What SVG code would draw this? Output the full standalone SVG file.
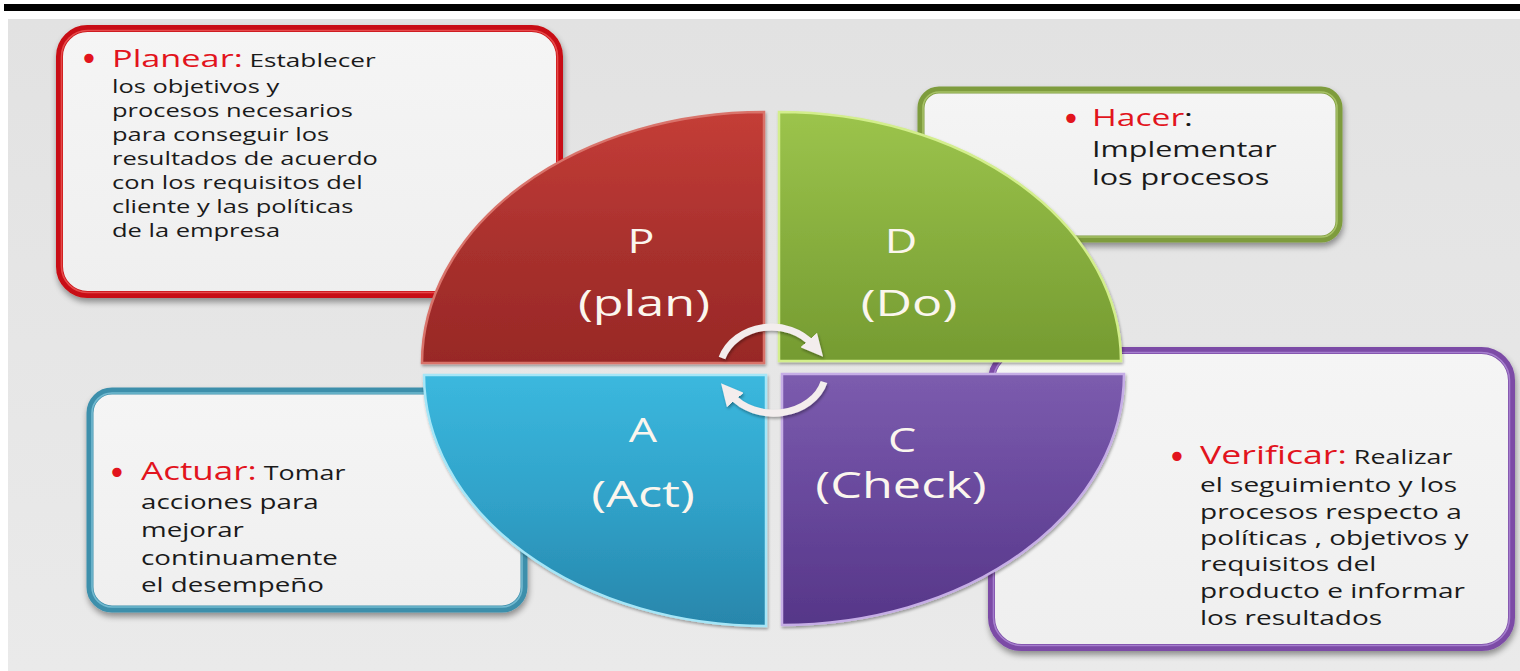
<svg xmlns="http://www.w3.org/2000/svg" width="1520" height="671" viewBox="0 0 1520 671">
<defs>
<style>
.tx{font-family:"Open Sans","Liberation Sans",sans-serif;fill:#1a1a1a;font-weight:500;}
.rd{fill:#e2141d;font-weight:400;}
.bl{font-family:"DejaVu Sans","Liberation Sans",sans-serif;fill:#e2141d;text-anchor:middle;}
.lb{font-family:"Open Sans","Liberation Sans",sans-serif;fill:#fbf6ee;text-anchor:middle;}
.box{fill:url(#boxFill);stroke-width:7;}
.hl{fill:none;stroke-width:1.6;opacity:.55;}
.arc{fill:none;stroke:#f3eded;stroke-width:7;stroke-linecap:butt;}
</style>
<linearGradient id="bg" x1="0" y1="0" x2="0" y2="1"><stop offset="0" stop-color="#e2e2e2"/><stop offset="1" stop-color="#eaeaea"/></linearGradient>
<linearGradient id="boxFill" x1="0" y1="0" x2="0" y2="1"><stop offset="0" stop-color="#f5f5f5"/><stop offset="1" stop-color="#efefef"/></linearGradient>
<linearGradient id="gP" x1="0" y1="0" x2="0" y2="1"><stop offset="0" stop-color="#c43d37"/><stop offset=".55" stop-color="#a8302d"/><stop offset="1" stop-color="#982826"/></linearGradient>
<linearGradient id="gD" x1="0" y1="0" x2="0" y2="1"><stop offset="0" stop-color="#9cc44c"/><stop offset=".55" stop-color="#86ad3d"/><stop offset="1" stop-color="#759b31"/></linearGradient>
<linearGradient id="gA" x1="0" y1="0" x2="0" y2="1"><stop offset="0" stop-color="#3bb8de"/><stop offset=".5" stop-color="#30a2c9"/><stop offset="1" stop-color="#2886ab"/></linearGradient>
<linearGradient id="gC" x1="0" y1="0" x2="0" y2="1"><stop offset="0" stop-color="#7c5cae"/><stop offset=".5" stop-color="#68489c"/><stop offset="1" stop-color="#563688"/></linearGradient>
<filter id="sh" x="-10%" y="-10%" width="125%" height="130%"><feGaussianBlur in="SourceAlpha" stdDeviation="3"/><feOffset dx="1" dy="4"/><feComponentTransfer><feFuncA type="linear" slope="0.4"/></feComponentTransfer><feMerge><feMergeNode/><feMergeNode in="SourceGraphic"/></feMerge></filter>
<filter id="sh2" x="-20%" y="-20%" width="140%" height="140%"><feGaussianBlur in="SourceAlpha" stdDeviation="1.5"/><feOffset dx="1" dy="2"/><feComponentTransfer><feFuncA type="linear" slope="0.35"/></feComponentTransfer><feMerge><feMergeNode/><feMergeNode in="SourceGraphic"/></feMerge></filter>
<marker id="ah" markerUnits="userSpaceOnUse" markerWidth="22" markerHeight="22" viewBox="0 0 10 10" refX="3" refY="5" orient="auto"><path d="M0,0 L10,5 L0,10 z" fill="#f3eded"/></marker>
</defs>

<rect x="0" y="0" width="1520" height="671" fill="#ffffff"/>
<rect x="4" y="4" width="1516" height="7" fill="#000000"/>
<rect x="8" y="19" width="1512" height="652" fill="url(#bg)"/>

<g id="box-planear" filter="url(#sh)">
<rect class="box" x="59.5" y="28.5" width="500" height="266" rx="28" stroke="#c80f12"/>
<rect class="hl" x="61.5" y="30.5" width="496" height="262" rx="26" stroke="#ff7a7a"/>
</g>
<g id="box-hacer" filter="url(#sh)">
<rect class="box" x="921" y="90" width="418" height="149" rx="18" stroke="#7e9c3c" stroke-width="6"/>
<rect class="hl" x="923" y="92" width="414" height="145" rx="16" stroke="#c8e08a"/>
</g>
<g id="box-actuar" filter="url(#sh)">
<rect class="box" x="90" y="391" width="434" height="218" rx="22" stroke="#3d8fab" stroke-width="6"/>
<rect class="hl" x="92" y="393" width="430" height="214" rx="20" stroke="#9fdcef"/>
</g>
<g id="box-verificar" filter="url(#sh)">
<rect class="box" x="991.5" y="350.5" width="520" height="297" rx="30" stroke="#7b4ba6"/>
<rect class="hl" x="993.5" y="352.5" width="516" height="293" rx="28" stroke="#c9a9ec"/>
</g>

<g id="quad-P" filter="url(#sh2)">
<path d="M764,363 L422,363 A342,251 0 0 1 764,112 Z" fill="url(#gP)" stroke="#d9736b" stroke-width="2.5"/>
</g>
<g id="quad-D" filter="url(#sh2)">
<path d="M779,361 L779,112 A342,249 0 0 1 1121,361 Z" fill="url(#gD)" stroke="#d3ee8c" stroke-width="2.5"/>
</g>
<g id="quad-A" filter="url(#sh2)">
<path d="M766,375 L766,626 A342,251 0 0 1 424,375 Z" fill="url(#gA)" stroke="#a6e6f7" stroke-width="2.5"/>
</g>
<g id="quad-C" filter="url(#sh2)">
<path d="M782,374 L1124,374 A342,251 0 0 1 782,625 Z" fill="url(#gC)" stroke="#c6aee6" stroke-width="2.5"/>
</g>

<g id="connectors" filter="url(#sh2)">
<path class="arc" d="M722,358 A52,45 0 0 1 813,345" marker-end="url(#ah)"/>
<path class="arc" d="M824,382 A52,42 0 0 1 731,395" marker-end="url(#ah)"/>
</g>

<g id="labels">
<text class="lb" font-size="32" transform="translate(641,253) scale(1.4,1)">P</text>
<text class="lb" font-size="36" transform="translate(644,316) scale(1.4,1)">(plan)</text>
<text class="lb" font-size="32" transform="translate(901,253) scale(1.4,1)">D</text>
<text class="lb" font-size="36" transform="translate(909,316) scale(1.4,1)">(Do)</text>
<text class="lb" font-size="32" transform="translate(643,442) scale(1.4,1)">A</text>
<text class="lb" font-size="36" transform="translate(643,507) scale(1.4,1)">(Act)</text>
<text class="lb" font-size="32" transform="translate(902,452) scale(1.4,1)">C</text>
<text class="lb" font-size="36" transform="translate(901,498) scale(1.4,1)">(Check)</text>
</g>

<g id="text-planear">
<text class="bl" x="89" y="70" font-size="32">•</text>
<g transform="translate(112,0) scale(1.4,1)" font-size="18.2">
<text class="tx" y="67"><tspan class="rd" font-size="24.5">Planear:</tspan><tspan font-size="18.7"> Establecer</tspan></text>
<text class="tx" y="93">los objetivos y</text>
<text class="tx" y="117">procesos necesarios</text>
<text class="tx" y="141">para conseguir los</text>
<text class="tx" y="165">resultados de acuerdo</text>
<text class="tx" y="189">con los requisitos del</text>
<text class="tx" y="213">cliente y las políticas</text>
<text class="tx" y="237">de la empresa</text>
</g>
</g>

<g id="text-hacer">
<text class="bl" x="1071" y="130" font-size="32">•</text>
<g transform="translate(1092,0) scale(1.4,1)" font-size="21.8">
<text class="tx" y="126"><tspan class="rd" font-size="24">Hacer</tspan><tspan font-size="24">:</tspan></text>
<text class="tx" y="157">Implementar</text>
<text class="tx" y="185">los procesos</text>
</g>
</g>

<g id="text-actuar">
<text class="bl" x="117" y="484" font-size="32">•</text>
<g transform="translate(141,0) scale(1.4,1)" font-size="19.8">
<text class="tx" y="480"><tspan class="rd" font-size="25">Actuar:</tspan><tspan font-size="19.2"> Tomar</tspan></text>
<text class="tx" y="509">acciones para</text>
<text class="tx" y="537">mejorar</text>
<text class="tx" y="565">continuamente</text>
<text class="tx" y="592">el desempeño</text>
</g>
</g>

<g id="text-verificar">
<text class="bl" x="1177" y="468" font-size="32">•</text>
<g transform="translate(1200,0) scale(1.4,1)" font-size="20">
<text class="tx" y="464"><tspan class="rd" font-size="25.5">Verificar:</tspan><tspan font-size="19.2"> Realizar</tspan></text>
<text class="tx" y="492">el seguimiento y los</text>
<text class="tx" y="519">procesos respecto a</text>
<text class="tx" y="545">políticas , objetivos y</text>
<text class="tx" y="571">requisitos del</text>
<text class="tx" y="598">producto e informar</text>
<text class="tx" y="625">los resultados</text>
</g>
</g>
</svg>
